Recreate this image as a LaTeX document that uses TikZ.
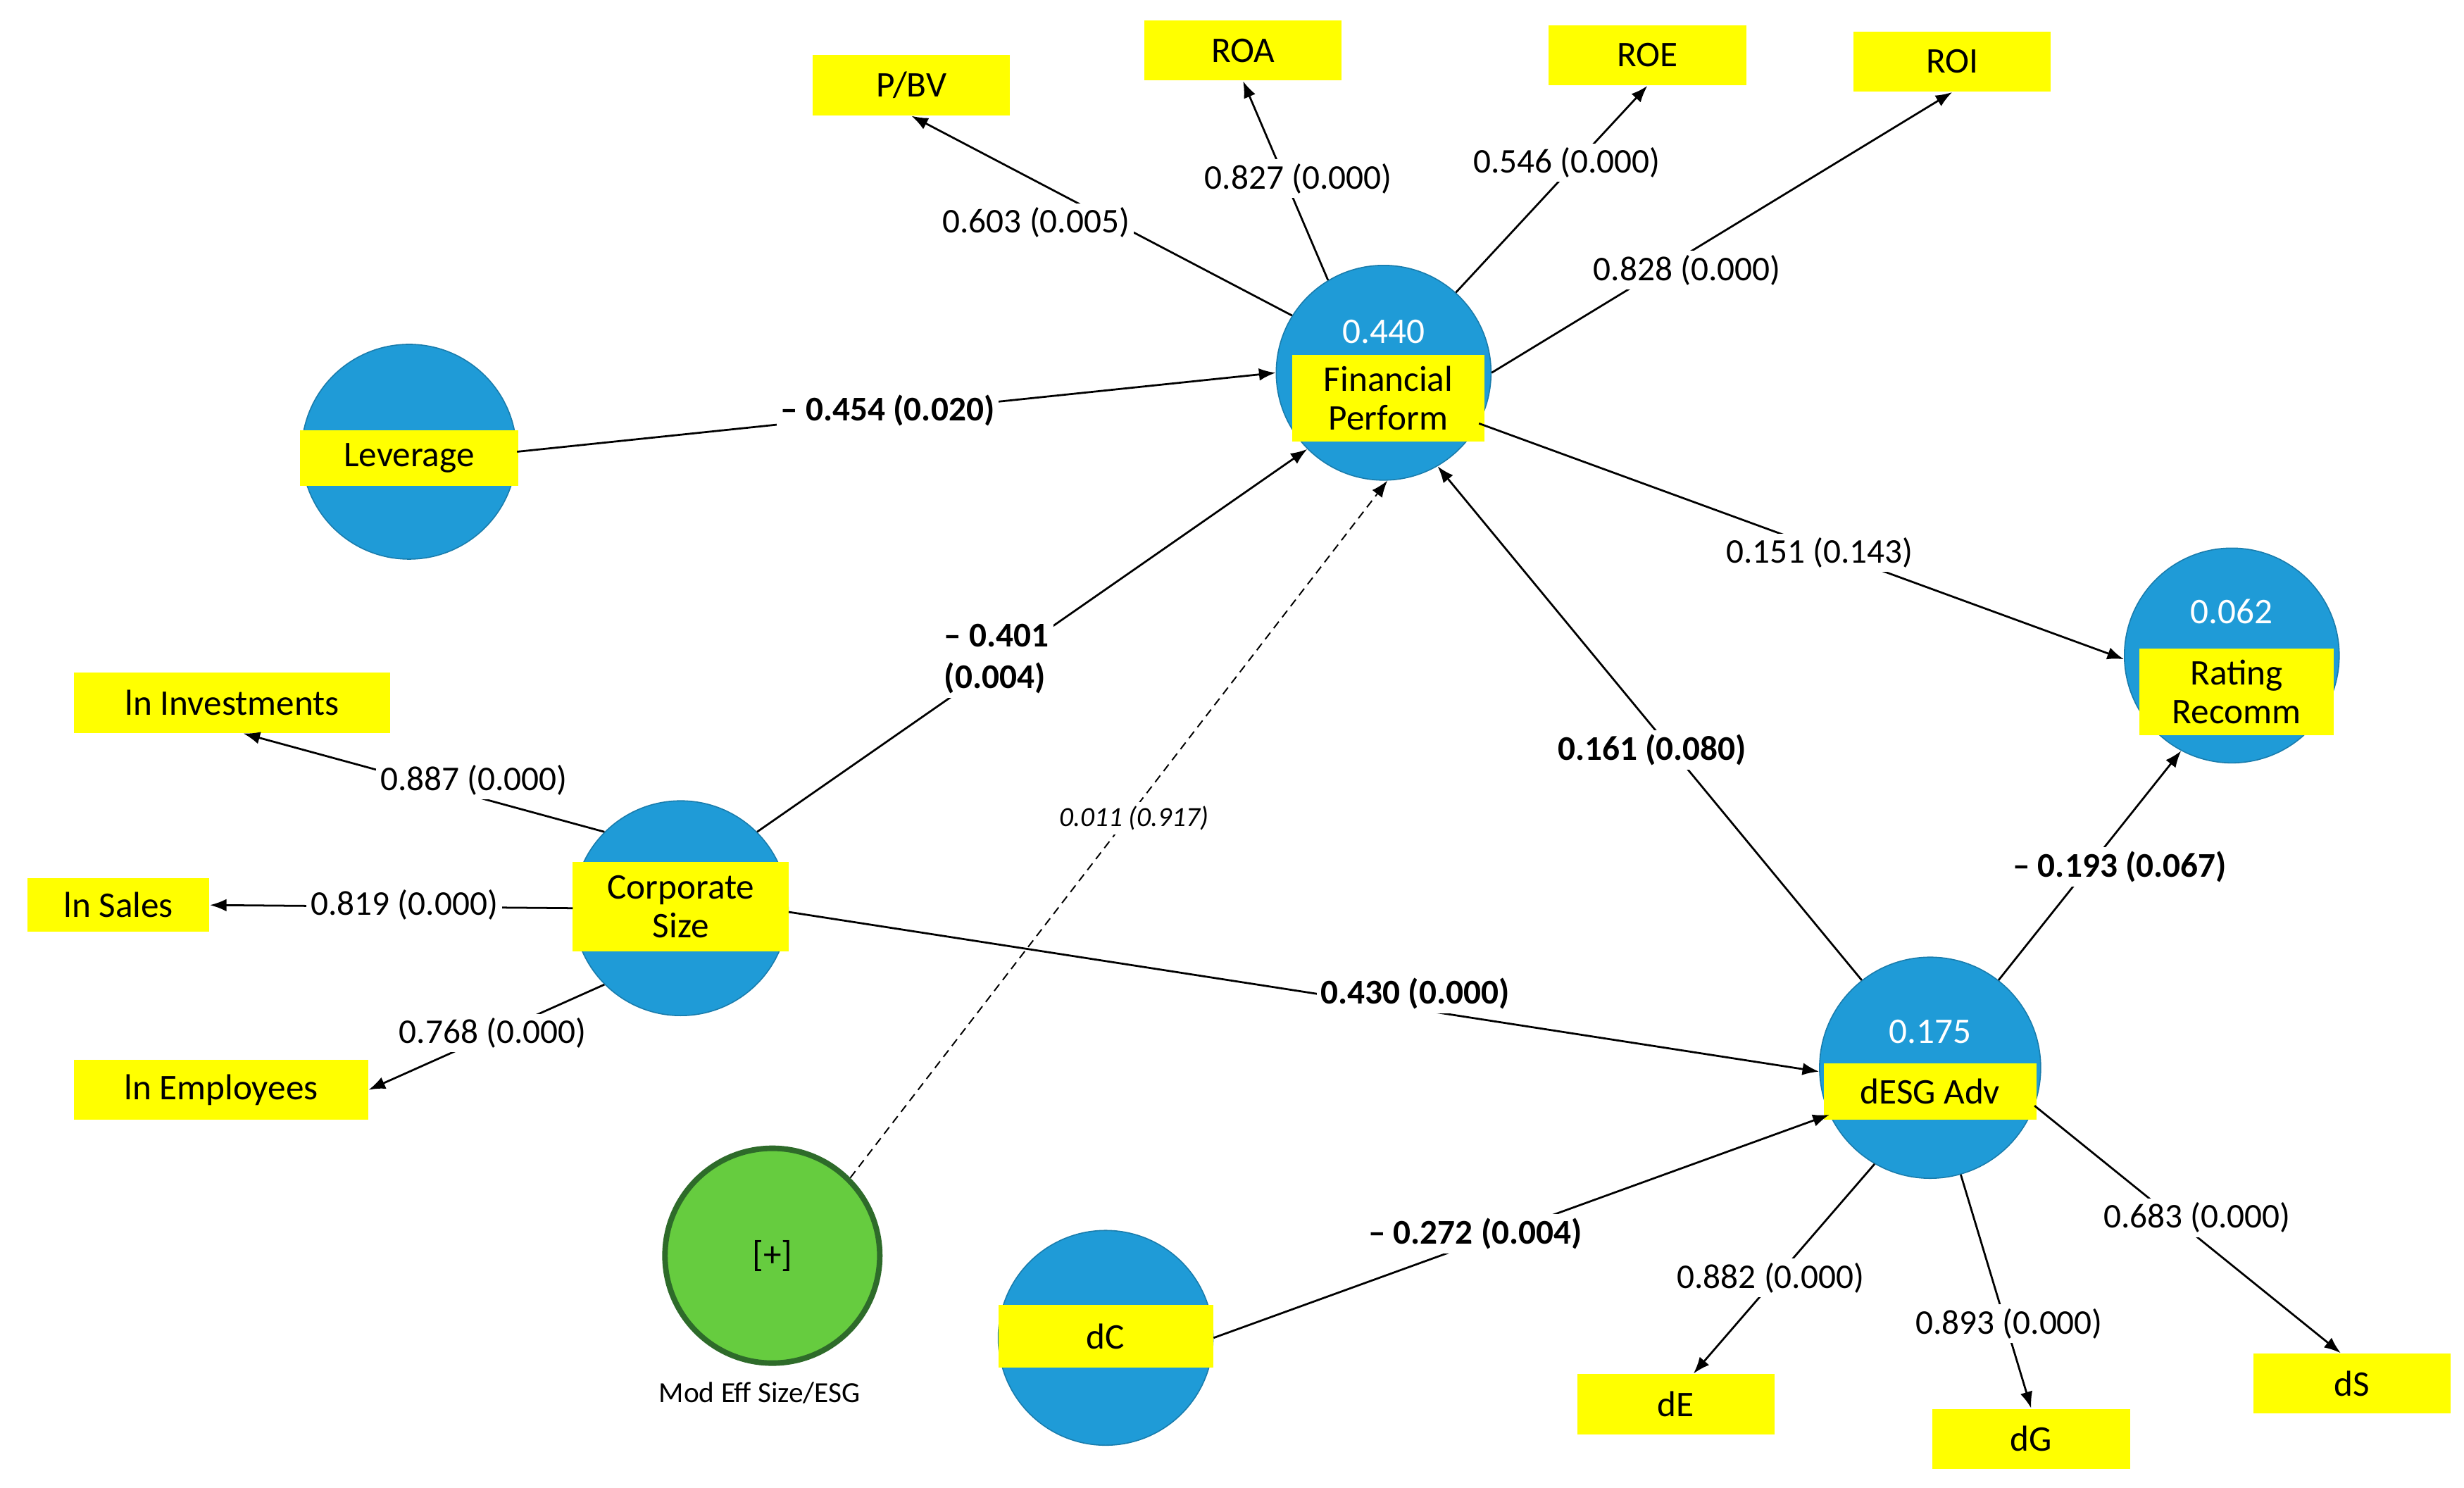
\documentclass[tikz,border=0pt]{standalone}
\usepackage{fontspec}
\setmainfont{Carlito}
\usetikzlibrary{arrows.meta}
\definecolor{cb}{HTML}{1F9BD7}
\definecolor{yb}{HTML}{FFFF00}
\definecolor{gf}{HTML}{66CC3F}
\definecolor{gd}{HTML}{2E6B2A}
\begin{document}
\begin{tikzpicture}[x=0.02cm,y=-0.02cm,
  lv/.style={circle,fill=cb,draw=cb!80!black,line width=0.4pt,minimum size=136*0.02cm,inner sep=0pt},
  yl/.style={fill=yb,inner sep=0pt,font=\fontsize{13}{15}\selectfont,align=center},
  val/.style={text=white,font=\fontsize{13}{15}\selectfont},
  ar/.style={-{Latex[length=6pt,width=4.5pt]},line width=0.7pt},
  lb/.style={fill=white,inner sep=1.5pt,font=\fontsize{12.5}{15}\selectfont,align=center},
  bl/.style={lb,font=\fontsize{12.5}{15}\selectfont\bfseries}]
\useasboundingbox (0,0) rectangle (1560,942);
% latent variables
\node[lv] (fp) at (876,236) {};
\node[val] at (876,210) {0.440};
\node[yl,minimum width=122*0.02cm,minimum height=55*0.02cm] (fpl) at (879,252) {Financial\\[-1pt]Perform};
\node[lv] (lev) at (259,286) {};
\node[yl,minimum width=138*0.02cm,minimum height=35*0.02cm] at (259,290) {Leverage};
\node[lv] (cs) at (431,575) {};
\node[yl,minimum width=137*0.02cm,minimum height=57*0.02cm] at (431,574) {Corporate\\[-1pt]Size};
\node[lv] (rr) at (1413,415) {};
\node[val] at (1413,387) {0.062};
\node[yl,minimum width=123*0.02cm,minimum height=55*0.02cm] at (1416,438) {Rating\\[-1pt]Recomm};
\node[lv,minimum size=140*0.02cm] (de) at (1222,676) {};
\node[val] at (1222,653) {0.175};
\node[yl,minimum width=135*0.02cm,minimum height=36*0.02cm] at (1222,691) {dESG Adv};
\node[lv] (dc) at (700,847) {};
\node[yl,minimum width=136*0.02cm,minimum height=40*0.02cm] at (700,846) {dC};
\node[circle,fill=gf,draw=gd,line width=2pt,minimum size=136*0.02cm,inner sep=0pt,font=\fontsize{13}{15}\selectfont] (mod) at (489,795) {[+]};
\node[font=\fontsize{10.5}{12}\selectfont] at (481,882) {Mod Eff Size/ESG};
% indicators
\tikzset{ind/.style={yl,minimum width=125*0.02cm,minimum height=38*0.02cm}}
\node[ind] (pbv) at (577,54) {P/BV};
\node[ind] (roa) at (787,32) {ROA};
\node[ind] (roe) at (1043,35) {ROE};
\node[ind] (roi) at (1236,39) {ROI};
\node[ind,minimum width=200*0.02cm] (linv) at (147,445) {ln Investments};
\node[ind,minimum width=115*0.02cm,minimum height=34*0.02cm] (lsal) at (75,573) {ln Sales};
\node[ind,minimum width=186*0.02cm] (lemp) at (140,690) {ln Employees};
\node[ind] (dE) at (1061,889) {dE};
\node[ind] (dG) at (1286,911) {dG};
\node[ind] (dS) at (1489,876) {dS};
% connectors
\draw[ar] (fp.{148}) -- (pbv.south);
\draw[ar] (fp.{121}) -- (roa.south);
\draw[ar] (fp.{48}) -- (roe.south);
\draw[ar] (fp.east) -- (roi.south);
\draw[ar] (lev.east) -- (fp.west);
\draw[ar] (cs.{45}) -- (fp.{225});
\draw[ar,densely dashed,line width=0.5pt] (mod.{45}) -- (fp.{-88});
\draw[ar] (de.{128}) -- (fp.{-60});
\draw[ar] (fp.{-28}) -- (rr.{-178});
\draw[ar] (de.{52}) -- (rr.{-118});
\draw[ar] (cs.{-2}) -- (de.{-178});
\draw[ar] (dc.east) -- (de.{-155});
\draw[ar] (cs.{135}) -- (linv.{-70});
\draw[ar] (cs.west) -- (lsal.east);
\draw[ar] (cs.{-135}) -- (lemp.east);
\draw[ar] (de.{-120}) -- (dE.{60});
\draw[ar] (de.{-74}) -- (dG.north);
\draw[ar] (de.{-20}) -- (dS.{110});
% labels
\node[lb] at (656,141) {0.603 (0.005)};
\node[lb] at (822,113) {0.827 (0.000)};
\node[lb] at (992,103) {0.546 (0.000)};
\node[lb] at (1068,171) {0.828 (0.000)};
\node[bl] at (562,260) {– 0.454 (0.020)};
\node[bl,align=left] at (631,417) {– 0.401\\(0.004)};
\node[lb,font=\fontsize{10}{12}\selectfont\itshape] at (718,518) {0.011 (0.917)};
\node[bl] at (1046,475) {0.161 (0.080)};
\node[lb] at (1152,350) {0.151 (0.143)};
\node[bl] at (1342,549) {– 0.193 (0.067)};
\node[bl] at (896,629) {0.430 (0.000)};
\node[bl] at (934,781) {– 0.272 (0.004)};
\node[lb] at (300,494) {0.887 (0.000)};
\node[lb] at (256,573) {0.819 (0.000)};
\node[lb] at (312,654) {0.768 (0.000)};
\node[lb] at (1121,809) {0.882 (0.000)};
\node[lb] at (1272,838) {0.893 (0.000)};
\node[lb] at (1391,771) {0.683 (0.000)};
\end{tikzpicture}
\end{document}
